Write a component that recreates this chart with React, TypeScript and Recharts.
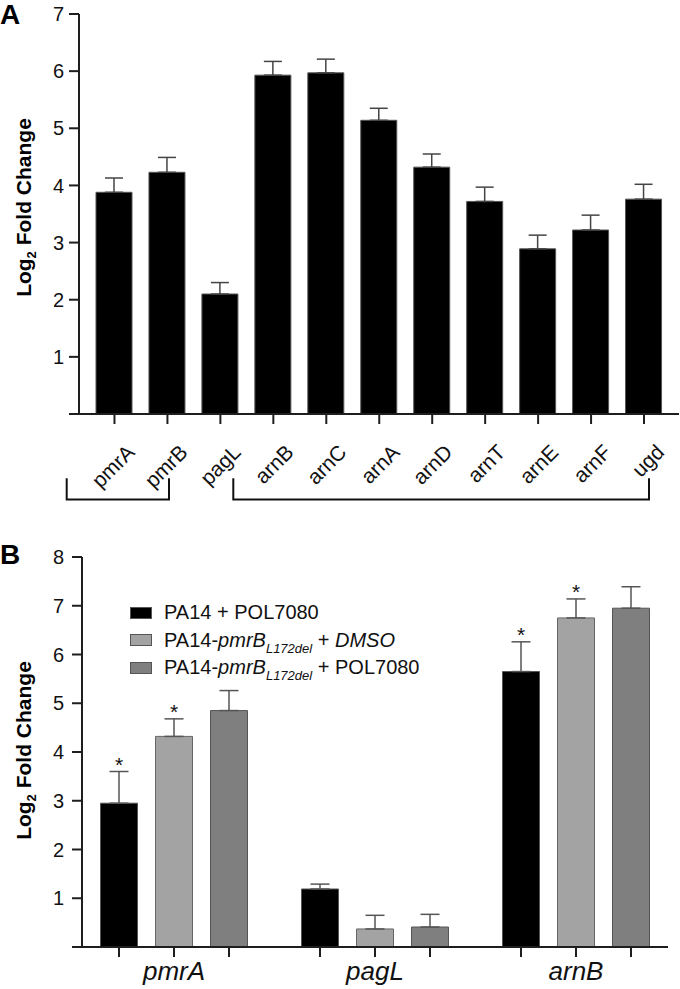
import React from 'react';
import { BarChart, Bar, XAxis, YAxis, ErrorBar, LabelList, Legend } from 'recharts';

const FONT = '"Liberation Sans", Arial, Helvetica, sans-serif';
const AXIS = '#1e1e1e';

// ---------- Panel A ----------
const genesA = ['pmrA', 'pmrB', 'pagL', 'arnB', 'arnC', 'arnA', 'arnD', 'arnT', 'arnE', 'arnF', 'ugd'];
const foldA = [3.88, 4.23, 2.1, 5.93, 5.97, 5.14, 4.32, 3.72, 2.89, 3.22, 3.76];
const errA = [0.25, 0.26, 0.2, 0.24, 0.24, 0.21, 0.23, 0.25, 0.24, 0.26, 0.26];
const ticksA = [0, 1, 2, 3, 4, 5, 6, 7];

// ---------- Panel B ----------
const genesB = ['pmrA', 'pagL', 'arnB'];
const seriesB = ['PA14 + POL7080', 'PA14-pmrB L172del + DMSO', 'PA14-pmrB L172del + POL7080'];
const polB = [2.95, 1.19, 5.65];
const polErrB = [0.65, 0.1, 0.61];
const dmsoB = [4.32, 0.37, 6.75];
const dmsoErrB = [0.36, 0.28, 0.39];
const mutPolB = [4.85, 0.41, 6.95];
const mutPolErrB = [0.41, 0.26, 0.44];
const polSigB = [true, false, true];
const dmsoSigB = [true, false, true];
const mutPolSigB = [false, false, false];
const ticksB = [0, 1, 2, 3, 4, 5, 6, 7, 8];

const dataA = genesA.map((g, i) => ({ gene: g, fold: foldA[i], err: [0, errA[i]] }));
const dataB = genesB.map((g, i) => ({
  gene: g,
  pol: polB[i],
  polErr: [0, polErrB[i]],
  dmso: dmsoB[i],
  dmsoErr: [0, dmsoErrB[i]],
  mutPol: mutPolB[i],
  mutPolErr: [0, mutPolErrB[i]],
}));

const BAR_B = 37;
const GAP_B = 18;

const TickB = (props: any) => {
  const x = Number(props.x);
  const y = Number(props.y);
  const step = BAR_B + GAP_B;
  const y0 = y - 14;
  return (
    <g>
      <line x1={x - step} x2={x - step} y1={y0} y2={y0 + 10} stroke={AXIS} strokeWidth={2} />
      <line x1={x + step} x2={x + step} y1={y0} y2={y0 + 10} stroke={AXIS} strokeWidth={2} />
      <text
        x={x}
        y={y}
        dy={19}
        textAnchor="middle"
        fill="#111"
        style={{ fontSize: 26, fontStyle: 'italic', fontFamily: FONT }}
      >
        {props.payload.value}
      </text>
    </g>
  );
};

const yTickStyle = {
  fontSize: 20,
  fill: '#111',
  fontFamily: FONT,
  style: { fontSize: 20, fontFamily: FONT },
};

const starLabel = (sig: boolean[], errs: number[]) => (props: any) => {
  const vb = props.viewBox || props;
  const x = vb.x ?? props.x;
  const y = vb.y ?? props.y;
  const width = vb.width ?? props.width;
  const height = Math.abs(vb.height ?? props.height);
  const index = props.index;
  const value = Number(props.value);
  if (!sig[index] || !value) return null;
  const top = y - (errs[index] * height) / value;
  return (
    <text x={x + width / 2} y={top} textAnchor="middle" fill="#111" style={{ fontSize: 21, fontFamily: FONT }}>
      *
    </text>
  );
};

const LegendText = ({ name }: { name: string }) => {
  const m = name.match(/^PA14-pmrB L172del \+ (.*)$/);
  if (!m) return <span>{name}</span>;
  return (
    <span>
      PA14-<i>pmrB</i>
      <sub style={{ fontSize: 13, fontStyle: 'italic', verticalAlign: '-6px', lineHeight: 0 }}>L172del</sub>
      {' + '}
      {m[1] === 'DMSO' ? <i>DMSO</i> : m[1]}
    </span>
  );
};

const renderLegend = (props: any) => {
  const payload = props.payload || [];
  return (
    <div style={{ fontFamily: FONT, fontSize: 20, color: '#111' }}>
      {payload.map((p: any, i: number) => (
        <div key={i} style={{ display: 'flex', alignItems: 'center', height: 27.5, whiteSpace: 'nowrap' }}>
          <span
            style={{
              display: 'inline-block',
              width: 20,
              height: 10,
              background: p.color,
              border: '1px solid #555',
              marginRight: 12,
            }}
          />
          <LegendText name={String(p.value)} />
        </div>
      ))}
    </div>
  );
};

export default function App() {
  return (
    <div style={{ position: 'absolute', left: 0, top: 0, width: 680, height: 989, background: '#fff', fontFamily: FONT }}>
      <div style={{ position: 'absolute', left: 0, top: 0 }}>
        <BarChart width={680} height={500} data={dataA} margin={{ top: 14, right: 1, bottom: 6, left: 0 }} barSize={36}>
          <XAxis
            dataKey="gene"
            interval={0}
            height={80}
            padding={{ left: 9, right: 8.5 }}
            axisLine={{ stroke: AXIS, strokeWidth: 2 }}
            tickLine={{ stroke: AXIS, strokeWidth: 2 }}
            tickSize={10}
            tickMargin={4}
            angle={-45}
            fontSize={21}
            tick={{
              angle: -45,
              textAnchor: 'end',
              verticalAnchor: 'end',
              dx: 11,
              dy: 15,
              fontSize: 21,
              fill: '#111',
              fontFamily: FONT,
              style: { fontSize: 21, fontFamily: FONT },
            }}
          />
          <YAxis
            width={79}
            domain={[0, 7]}
            ticks={ticksA}
            interval={0}
            tickFormatter={(v: number) => (v === 0 ? '' : String(v))}
            axisLine={{ stroke: AXIS, strokeWidth: 2 }}
            tickLine={{ stroke: AXIS, strokeWidth: 2 }}
            tickSize={10}
            tickMargin={5}
            fontSize={20}
            tick={yTickStyle}
          />
          <Bar dataKey="fold" fill="#000" stroke="#555" strokeWidth={1} isAnimationActive={false}>
            <ErrorBar dataKey="err" width={9} stroke="#444" strokeWidth={1.5} direction="y" />
          </Bar>
        </BarChart>
      </div>

      <div style={{ position: 'absolute', left: 0, top: 520 }}>
        <BarChart
          width={680}
          height={469}
          data={dataB}
          margin={{ top: 37, right: 12, bottom: 2, left: 0 }}
          barGap={GAP_B}
          barSize={BAR_B}
        >
          <XAxis
            dataKey="gene"
            interval={0}
            height={40}
            padding={{ left: -8.5, right: -8.5 }}
            axisLine={{ stroke: AXIS, strokeWidth: 2 }}
            tickLine={{ stroke: AXIS, strokeWidth: 2 }}
            tickSize={10}
            tickMargin={4}
            tick={TickB}
          />
          <YAxis
            width={82}
            domain={[0, 8]}
            ticks={ticksB}
            interval={0}
            tickFormatter={(v: number) => (v === 0 ? '' : String(v))}
            axisLine={{ stroke: AXIS, strokeWidth: 2 }}
            tickLine={{ stroke: AXIS, strokeWidth: 2 }}
            tickSize={10}
            tickMargin={8}
            fontSize={20}
            tick={yTickStyle}
          />
          <Legend
            layout="vertical"
            align="center"
            verticalAlign="middle"
            wrapperStyle={{ left: 130, top: 79, width: 420, height: 90 }}
            content={renderLegend}
          />
          <Bar dataKey="pol" name={seriesB[0]} fill="#000" stroke="#555" strokeWidth={1} isAnimationActive={false}>
            <ErrorBar dataKey="polErr" width={9.5} stroke="#555" strokeWidth={1.5} direction="y" />
            <LabelList dataKey="pol" content={starLabel(polSigB, polErrB)} />
          </Bar>
          <Bar dataKey="dmso" name={seriesB[1]} fill="#a3a3a3" stroke="#666" strokeWidth={1} isAnimationActive={false}>
            <ErrorBar dataKey="dmsoErr" width={9.5} stroke="#555" strokeWidth={1.5} direction="y" />
            <LabelList dataKey="dmso" content={starLabel(dmsoSigB, dmsoErrB)} />
          </Bar>
          <Bar dataKey="mutPol" name={seriesB[2]} fill="#7f7f7f" stroke="#555" strokeWidth={1} isAnimationActive={false}>
            <ErrorBar dataKey="mutPolErr" width={9.5} stroke="#555" strokeWidth={1.5} direction="y" />
            <LabelList dataKey="mutPol" content={starLabel(mutPolSigB, mutPolErrB)} />
          </Bar>
        </BarChart>
      </div>

      <svg width={680} height={989} style={{ position: 'absolute', left: 0, top: 0, pointerEvents: 'none' }}>
        <text x={0} y={24} fontSize={28} fontWeight="bold" fill="#000" fontFamily={FONT}>A</text>
        <text x={0} y={564} fontSize={28} fontWeight="bold" fill="#000" fontFamily={FONT}>B</text>
        <text transform="translate(31, 207.5) rotate(-90)" textAnchor="middle" fontSize={21} fontWeight="bold" fill="#000" fontFamily={FONT}>
          Log<tspan fontSize={13} dy={5}>2</tspan>
          <tspan dy={-5}> Fold Change</tspan>
        </text>
        <text transform="translate(31, 750.5) rotate(-90)" textAnchor="middle" fontSize={21} fontWeight="bold" fill="#000" fontFamily={FONT}>
          Log<tspan fontSize={13} dy={5}>2</tspan>
          <tspan dy={-5}> Fold Change</tspan>
        </text>
        <path d="M66.7 478.3 V499.5 H169 V478.3" fill="none" stroke="#111" strokeWidth={2} />
        <path d="M233.3 478.3 V499.5 H649 V478.3" fill="none" stroke="#111" strokeWidth={2} />
      </svg>
    </div>
  );
}
